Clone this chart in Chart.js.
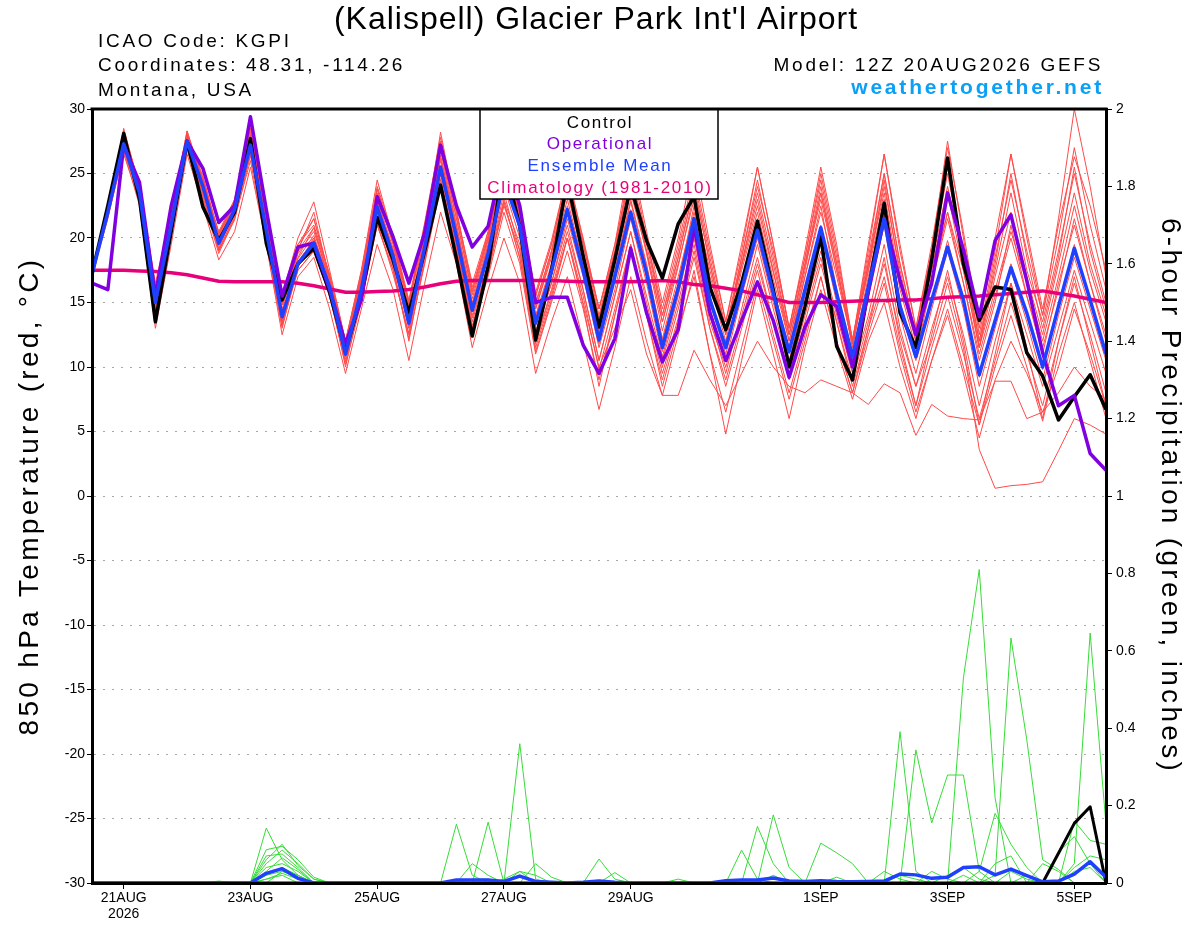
<!DOCTYPE html>
<html>
<head>
<meta charset="utf-8">
<title>KGPI GEFS 850 hPa temperature and precipitation</title>
<script src="https://cdn.jsdelivr.net/npm/chart.js@4.4.1/dist/chart.umd.min.js"></script>
<style>
  html, body { margin: 0; padding: 0; background: #fff; }
  canvas { display: block; }
</style>
</head>
<body>
<canvas id="meteogram" width="1200" height="927"></canvas>
<script>
// hours after 20AUG2026 12Z, one point every 6 h (65 points to 5SEP 12Z)
const step_hours = [];
for (let i = 0; i <= 64; i++) step_hours.push(i * 6);

// x axis labels (hours after run start)
const tick_hours = [12, 60, 108, 156, 204, 276, 324, 372];
const tick_labels = [["21AUG", "2026"], "23AUG", "25AUG", "27AUG", "29AUG", "1SEP", "3SEP", "5SEP"];

// 850 hPa temperature, deg C
const temp_mean = [17.2,22.0,27.3,23.5,15.0,21.0,27.5,24.0,19.6,22.2,
  27.2,20.6,13.9,18.0,19.6,16.2,11.0,16.0,22.4,18.6,
  13.4,19.3,25.5,20.1,14.4,18.8,24.5,20.9,13.4,17.4,
  22.2,17.5,12.1,17.0,22.0,17.3,11.5,16.1,21.5,15.2,
  11.5,16.0,20.6,15.7,11.2,16.0,20.8,15.7,10.8,16.2,
  21.5,14.7,10.8,15.2,19.3,15.2,9.4,13.6,17.7,14.2,
  10.0,14.7,19.2,15.2,11.0];

const temp_control = [17.2,22.5,28.1,23.0,13.5,20.5,27.5,22.4,19.8,22.0,
  27.7,19.6,15.2,18.0,19.2,15.8,11.2,15.5,21.6,18.3,
  14.2,19.0,24.1,18.4,12.4,17.8,26.0,20.9,12.1,17.5,
  24.5,18.6,13.1,18.3,24.0,19.8,16.9,21.1,23.2,16.2,
  12.9,16.5,21.3,16.0,10.0,14.7,20.1,11.6,9.0,16.0,
  22.7,14.2,11.5,18.3,26.2,18.0,13.6,16.2,16.0,11.1,
  9.3,5.9,7.7,9.4,6.7];

const temp_operational = [16.5,16.0,27.2,24.3,15.5,22.5,27.5,25.4,21.2,22.5,
  29.4,22.2,15.5,19.3,19.6,16.0,11.8,15.2,23.2,20.1,
  16.5,20.4,27.2,22.5,19.3,20.9,26.5,22.5,15.0,15.4,
  15.4,11.7,9.5,12.2,19.2,14.2,10.4,12.9,20.9,14.2,
  10.5,13.6,16.6,13.6,9.2,13.1,15.6,14.7,10.0,15.8,
  21.5,16.7,12.5,16.5,23.5,19.1,13.9,19.8,21.8,16.7,
  11.1,7.0,7.8,3.3,2.0];

const temp_climatology = [17.5,17.5,17.5,17.45,17.4,17.3,17.15,16.9,16.65,16.6,
  16.6,16.6,16.6,16.5,16.3,16.05,15.8,15.8,15.85,15.9,
  16.0,16.2,16.45,16.65,16.7,16.7,16.7,16.7,16.7,16.7,
  16.65,16.6,16.6,16.6,16.6,16.65,16.7,16.6,16.4,16.3,
  16.1,15.9,15.6,15.3,15.0,15.0,15.0,15.05,15.1,15.15,
  15.15,15.2,15.2,15.3,15.4,15.45,15.5,15.6,15.7,15.8,
  15.9,15.7,15.5,15.25,15.0];

// ensemble members (red)
const temp_m01 = [17.3,22.3,27.8,23.8,15.5,21.5,28.0,24.3,19.8,22.5,
  27.8,21.0,14.5,18.8,20.5,16.8,11.5,16.8,23.5,19.5,
  14.2,20.3,26.8,21.0,15.3,19.8,25.8,21.8,14.5,18.8,
  23.8,18.8,13.2,18.5,24.0,18.8,12.8,17.8,23.5,17.0,
  13.0,17.8,22.5,17.3,12.5,17.8,23.0,17.5,12.2,18.0,
  23.5,16.5,12.0,17.0,22.0,17.5,11.5,16.0,20.5,16.5,
  12.0,17.0,22.5,17.5,13.5];
const temp_m02 = [17.1,21.8,27.0,23.0,14.5,20.5,27.0,23.5,19.0,21.8,
  26.5,20.0,13.2,17.5,19.0,15.5,10.2,15.0,21.0,17.5,
  12.5,18.0,24.0,19.0,13.0,17.5,22.5,19.0,11.5,15.5,
  20.0,15.0,10.0,13.0,16.0,11.0,7.8,7.8,11.3,9.0,
  7.0,9.5,12.0,10.0,8.5,8.0,9.0,8.5,8.0,7.1,
  8.7,8.0,4.7,7.1,6.2,6.0,5.9,8.9,8.9,6.0,
  6.5,8.0,10.0,8.5,7.5];
const temp_m03 = [17.2,22.2,27.5,23.3,14.8,21.2,27.8,24.2,19.5,22.0,
  27.0,20.2,13.5,19.5,21.5,17.0,11.2,16.5,22.8,18.5,
  13.0,19.0,25.0,19.5,13.5,18.0,23.5,19.0,12.5,16.5,
  21.0,16.0,10.5,15.5,20.5,15.0,10.0,14.5,19.5,13.5,
  10.0,14.0,18.5,13.5,9.5,14.0,18.5,13.5,9.0,13.5,
  18.0,12.5,8.5,12.0,16.5,11.5,3.6,0.6,0.8,0.9,
  1.1,3.5,6.0,5.5,4.8];
const temp_m04 = [17.3,22.5,28.3,24.0,16.0,21.8,28.3,24.5,20.2,22.8,
  28.0,21.5,15.0,19.0,20.0,16.8,11.8,17.0,23.8,19.8,
  15.0,21.0,27.5,22.0,16.5,20.5,26.0,22.5,15.5,19.5,
  25.0,20.0,14.5,19.5,25.0,20.0,14.0,19.0,24.5,18.5,
  13.0,18.5,24.0,19.0,13.0,18.5,24.5,18.5,12.0,18.5,
  25.0,18.0,12.5,19.0,25.5,19.0,12.0,18.5,24.5,19.0,
  14.0,21.5,30.0,24.0,17.0];
const temp_m05 = [17.2,21.9,27.0,23.2,14.0,20.8,27.2,23.8,19.2,22.0,
  27.0,20.5,14.0,18.5,20.8,16.5,10.8,16.2,22.0,18.0,
  13.0,19.0,25.0,19.8,14.0,18.5,24.0,20.0,12.8,16.5,
  21.5,17.0,11.5,16.0,21.5,16.5,10.8,15.5,21.0,14.5,
  10.5,15.5,20.0,15.0,10.5,15.5,20.5,15.0,10.0,15.5,
  21.0,14.0,9.5,14.5,19.0,14.5,8.5,13.0,17.5,13.5,
  9.0,14.0,18.5,14.5,10.5];
const temp_m06 = [17.2,22.3,28.5,24.0,16.5,22.0,28.3,24.2,20.5,23.0,
  28.5,21.5,15.5,20.0,22.8,17.5,12.0,17.5,24.5,20.0,
  15.0,20.5,28.2,22.0,16.0,20.0,26.5,22.0,15.0,19.0,
  24.5,19.5,14.0,19.0,26.0,20.0,14.5,19.5,25.0,19.0,
  13.5,19.0,25.5,19.5,13.0,18.5,25.0,19.0,12.0,19.0,
  26.5,19.0,13.0,19.0,27.5,20.0,12.5,19.0,26.5,20.0,
  14.0,20.0,27.0,21.0,16.0];
const temp_m07 = [17.1,21.5,26.8,22.5,13.0,19.5,26.5,22.5,18.3,20.5,
  25.5,19.5,12.5,17.0,18.5,14.5,9.5,14.5,19.5,16.0,
  10.5,16.5,22.0,18.0,11.5,16.0,20.0,16.5,9.5,13.5,
  17.0,12.0,6.7,11.5,17.0,12.0,7.8,12.5,17.5,11.0,
  4.8,10.5,16.0,11.0,6.0,11.5,16.0,11.5,7.5,12.0,
  15.0,10.0,6.0,10.5,14.0,9.5,4.5,9.0,12.0,9.5,
  6.5,10.0,14.5,11.0,7.0];
const temp_m08 = [17.2,22.0,27.2,23.8,15.8,21.5,27.6,24.2,19.8,22.5,
  27.5,20.8,13.8,17.5,19.0,16.0,11.0,16.5,23.0,19.2,
  14.0,20.0,26.0,20.5,14.5,19.5,25.5,21.5,14.0,18.0,
  23.0,18.0,12.5,17.5,23.0,18.0,12.0,16.5,22.5,15.5,
  11.5,16.5,21.5,16.0,11.5,17.0,22.5,16.0,11.0,17.0,
  22.5,15.0,11.0,16.5,22.0,16.5,10.5,15.0,21.0,15.5,
  11.5,16.0,21.5,16.5,12.0];
const temp_m09 = [17.2,21.7,26.5,22.8,14.2,20.2,26.8,23.0,18.8,21.5,
  26.0,19.5,13.0,18.0,20.0,15.8,10.0,15.5,21.5,17.8,
  12.0,18.5,24.5,19.0,13.0,17.0,22.0,18.0,11.0,15.0,
  19.0,14.5,9.0,14.0,19.0,14.0,9.0,13.5,18.5,13.0,
  9.0,13.5,18.0,13.5,9.0,13.5,18.0,13.5,8.5,13.0,
  17.0,11.5,7.0,11.5,15.5,11.0,6.0,10.5,15.0,11.0,
  7.0,12.0,16.5,12.5,8.0];
const temp_m10 = [17.3,22.2,27.6,23.6,15.2,21.2,27.8,24.5,20.0,22.6,
  27.4,21.2,14.8,18.2,19.5,16.5,11.8,16.8,22.8,19.0,
  13.8,20.0,26.2,21.0,15.0,19.5,25.0,21.5,14.5,18.5,
  23.5,18.5,13.5,18.0,23.5,19.0,13.5,18.0,23.0,17.5,
  12.5,18.0,23.5,18.0,12.5,18.0,23.5,18.0,11.5,18.0,
  24.0,17.5,12.0,18.0,24.0,18.5,12.0,17.5,23.5,17.5,
  13.5,19.0,25.0,19.5,15.0];
const temp_m11 = [17.2,22.1,27.4,23.4,14.6,21.0,27.4,23.6,19.4,21.8,
  26.8,20.4,13.6,19.0,22.0,16.8,11.4,15.8,22.0,18.4,
  13.6,19.4,25.2,19.6,13.8,18.0,23.0,19.5,12.0,16.0,
  20.5,16.0,10.5,15.5,20.5,15.5,10.5,15.0,20.0,14.0,
  9.5,14.5,19.5,14.5,10.0,14.5,19.0,14.0,9.5,14.0,
  19.5,13.0,8.5,13.0,17.0,12.5,7.0,12.0,16.5,12.5,
  8.5,13.0,17.5,13.5,9.5];
const temp_m12 = [17.2,22.4,28.0,24.2,16.0,22.2,28.0,24.8,20.3,22.8,
  28.5,21.8,15.0,19.5,21.0,17.2,12.0,17.2,23.8,19.8,
  14.8,21.0,27.0,21.5,15.8,20.5,26.0,22.0,15.5,19.5,
  24.5,19.5,14.5,19.0,25.0,19.5,14.0,18.5,24.0,18.0,
  12.5,18.5,24.5,18.5,12.5,18.0,24.0,18.0,11.5,18.0,
  25.0,18.0,12.5,18.5,25.0,18.5,11.5,18.0,25.0,18.5,
  13.0,18.5,25.5,19.0,14.5];
const temp_m13 = [17.2,22.2,27.7,23.9,15.7,21.7,27.9,24.0,19.9,22.4,
  27.6,21.2,14.2,18.4,20.2,16.4,11.2,16.2,22.6,19.0,
  13.6,20.5,26.4,20.8,14.8,19.2,25.2,21.0,13.8,17.8,
  22.5,17.8,12.8,17.2,22.8,17.8,12.2,17.0,22.0,16.5,
  12.0,17.5,22.0,16.8,12.0,17.0,22.0,17.0,11.8,17.5,
  23.0,16.0,11.5,16.5,21.5,16.5,11.0,15.5,20.0,15.5,
  11.0,16.5,21.0,16.5,12.5];
const temp_m14 = [17.1,21.6,26.9,23.0,14.3,20.6,27.1,23.4,19.1,21.6,
  26.6,20.0,13.4,18.2,19.8,15.6,10.4,15.2,21.2,17.2,
  12.6,18.8,24.6,19.2,13.2,17.6,22.8,18.5,11.8,15.8,
  20.0,15.5,9.8,14.5,19.5,14.5,9.5,13.8,19.0,13.0,
  8.5,13.0,17.5,12.5,8.0,12.5,17.0,12.0,8.0,12.5,
  16.5,11.0,6.5,10.5,14.5,10.0,5.5,10.0,14.0,10.0,
  5.8,11.0,15.0,10.5,6.0];
const temp_m15 = [17.3,22.4,28.2,24.1,16.2,22.0,28.1,24.6,20.4,22.9,
  28.2,21.6,15.2,19.2,21.5,17.0,12.0,17.4,24.0,20.2,
  15.2,21.2,27.8,22.2,16.2,20.2,26.2,22.2,15.8,19.8,
  25.0,19.8,14.5,19.5,26.5,20.5,15.0,20.0,26.0,19.5,
  13.5,19.5,25.5,19.5,13.0,19.0,25.5,19.5,12.0,19.5,
  26.5,19.5,13.0,19.5,27.0,20.5,13.0,20.0,26.5,20.5,
  14.5,21.0,26.3,22.5,17.5];
const temp_m16 = [17.2,21.9,27.1,23.5,15.1,21.0,27.4,24.1,19.6,22.1,
  27.1,20.7,14.1,18.1,19.8,16.3,11.1,16.1,22.3,18.7,
  13.5,19.2,25.4,20.2,14.6,18.9,24.4,20.7,13.2,17.2,
  22.0,17.2,11.8,16.8,22.2,17.0,11.2,15.8,21.2,15.0,
  11.0,15.8,20.8,15.5,11.0,15.8,21.0,15.5,10.5,16.0,
  21.8,14.5,10.5,15.0,19.8,15.0,9.2,13.5,18.0,14.0,
  9.8,14.5,19.5,15.0,11.0];
const temp_m17 = [17.2,21.8,27.0,23.1,14.4,20.4,27.0,23.2,19.0,21.4,
  26.4,20.0,13.2,17.8,19.4,15.4,10.6,15.4,21.0,17.6,
  12.2,18.2,24.2,19.2,12.8,17.2,22.8,18.4,11.2,15.2,
  20.0,14.8,8.5,14.0,19.5,14.0,8.5,13.0,17.0,11.0,
  6.5,11.5,16.5,12.0,7.5,12.0,17.0,12.0,8.0,13.0,
  18.5,12.0,7.0,12.5,17.5,12.0,5.5,11.0,16.5,11.5,
  6.0,12.0,17.0,12.0,7.0];
const temp_m18 = [17.3,22.3,27.9,24.0,15.9,21.9,27.9,24.6,20.1,22.7,
  28.0,21.4,14.9,19.0,20.8,17.0,11.9,17.0,23.4,19.6,
  14.6,20.8,27.0,21.6,15.6,20.0,25.8,21.8,14.8,19.0,
  24.0,19.0,13.8,18.8,24.5,19.0,13.5,18.5,24.0,18.0,
  12.8,18.0,23.0,17.5,12.0,17.5,23.5,17.5,11.8,17.5,
  24.5,17.0,12.0,17.5,23.5,17.5,11.5,17.0,22.0,17.0,
  12.5,18.0,23.5,18.0,14.0];

// 6-hour precipitation, inches
const precip_mean = [0,0,0,0,0,0,0,0,0,0,
  0,0.025,0.037,0.012,0,0,0,0,0,0,
  0,0,0,0.008,0.008,0.008,0.004,0.018,0.004,0.002,
  0,0.002,0.005,0.002,0,0,0,0,0,0,
  0.006,0.008,0.008,0.013,0.005,0.004,0.006,0.004,0.003,0.004,
  0.005,0.023,0.021,0.012,0.015,0.04,0.042,0.021,0.036,0.019,
  0.003,0.005,0.023,0.055,0.015];
const precip_control = [0,0,0,0,0,0,0,0,0,0,
  0,0,0,0,0,0,0,0,0,0,
  0,0,0,0,0,0,0,0,0,0,
  0,0,0,0,0,0,0,0,0,0,
  0,0,0,0,0,0,0,0,0,0,
  0,0,0,0,0,0,0,0,0,0,
  0,0.077,0.154,0.197,0];

// ensemble members (green)
const precip_m01 = [0,0,0,0,0,0,0,0,0,0,
  0,0.142,0.06,0.02,0,0,0,0,0,0,
  0,0,0,0,0,0,0,0,0,0,
  0,0,0,0,0,0,0,0,0,0,
  0,0,0,0,0,0,0,0,0,0,
  0,0,0,0,0,0.53,0.81,0.22,0,0,
  0,0,0,0,0];
const precip_m02 = [0,0,0,0,0,0,0,0,0,0,
  0,0.086,0.095,0.06,0.015,0,0,0,0,0,
  0,0,0,0,0,0,0,0.36,0.01,0,
  0,0,0,0,0,0,0,0,0,0,
  0,0,0,0,0,0,0,0,0,0,
  0,0,0,0,0,0,0,0,0,0,
  0,0,0.16,0.11,0.10];
const precip_m03 = [0,0,0,0,0,0,0,0,0,0,
  0,0.07,0.075,0.04,0,0,0,0,0,0,
  0,0,0,0.152,0.02,0,0,0,0,0,
  0,0,0,0,0,0,0,0,0,0,
  0,0,0,0,0,0,0,0,0,0,
  0,0.391,0.03,0,0,0,0,0,0,0,
  0.05,0.03,0,0,0];
const precip_m04 = [0,0,0,0,0,0,0,0,0,0,
  0,0.05,0.085,0.05,0.01,0,0,0,0,0,
  0,0,0,0,0,0.157,0,0,0,0,
  0,0,0,0,0,0,0,0,0,0,
  0,0,0,0,0,0,0,0,0,0,
  0,0,0.344,0.155,0.279,0.279,0.03,0,0,0,
  0,0,0,0,0];
const precip_m05 = [0,0,0,0,0,0,0,0,0,0,
  0,0.03,0.065,0.035,0,0,0,0,0,0,
  0,0,0,0,0.05,0.02,0,0,0,0,
  0,0,0.062,0.01,0,0,0,0,0,0,
  0,0,0,0,0,0,0,0,0,0,
  0,0,0,0,0,0,0,0.02,0.633,0.37,
  0.06,0.035,0,0,0];
const precip_m06 = [0,0,0,0,0,0,0,0,0,0,
  0,0.04,0.05,0.03,0,0,0,0,0,0,
  0,0,0,0,0,0,0,0,0.05,0.015,
  0,0,0,0,0,0,0,0,0,0,
  0,0,0,0,0,0,0,0,0,0,
  0,0,0,0,0,0,0.03,0.18,0.1,0.04,
  0,0,0.05,0.646,0.15];
const precip_m07 = [0,0,0,0,0,0,0,0,0,0,
  0,0.02,0.04,0.02,0,0,0,0,0,0,
  0,0,0,0,0,0,0,0.03,0.02,0,
  0,0,0,0,0,0,0,0,0,0,
  0,0.085,0.01,0,0,0,0.103,0.078,0.05,0,
  0,0,0,0,0,0,0,0,0,0,
  0,0,0,0,0];
const precip_m08 = [0,0,0,0,0,0,0,0,0,0,
  0,0,0.03,0.02,0,0,0,0,0,0,
  0,0,0,0,0,0,0,0,0,0,
  0,0,0,0.027,0,0,0,0,0,0,
  0,0,0.146,0.05,0,0,0,0,0,0,
  0,0,0,0,0.02,0.04,0.01,0,0,0,
  0,0.08,0.12,0.05,0];
const precip_m09 = [0,0,0,0,0,0,0,0,0,0,
  0,0.01,0.02,0,0,0,0,0,0,0,
  0,0,0,0,0,0,0,0,0,0,
  0,0,0,0,0,0,0,0.01,0,0,
  0,0,0,0.176,0.04,0,0,0,0,0,
  0.03,0.01,0,0,0,0,0,0,0.03,0.01,
  0,0,0.04,0.07,0.06];
const precip_m10 = [0,0,0,0,0,0,0,0,0,0,
  0,0.02,0.03,0.015,0,0,0,0,0,0,
  0,0,0,0,0,0,0.01,0.03,0,0,
  0,0,0,0,0,0,0,0,0,0,
  0,0,0,0,0,0,0,0.015,0,0,
  0,0,0,0.03,0.01,0,0,0.05,0.07,0,
  0,0,0,0,0];
const precip_m11 = [0,0,0,0,0,0,0,0,0,0,
  0,0.06,0.10,0.045,0.01,0,0,0,0,0,
  0,0,0,0,0,0,0,0,0,0,
  0,0,0,0,0,0,0,0,0,0,
  0,0,0,0.02,0,0,0,0,0,0,
  0,0.02,0.01,0,0,0.02,0,0,0,0,
  0,0,0,0,0];
const precip_m12 = [0,0,0,0,0,0,0,0,0.005,0,
  0,0.01,0.025,0.01,0,0,0,0,0,0,
  0,0,0,0,0.01,0.01,0,0,0,0,
  0,0,0,0,0,0,0,0,0,0,
  0,0,0,0,0,0,0,0,0,0,
  0,0,0,0,0,0,0,0,0,0.02,
  0,0,0.03,0.04,0];

const temp_members = [temp_m01, temp_m02, temp_m03, temp_m04, temp_m05, temp_m06,
  temp_m07, temp_m08, temp_m09, temp_m10, temp_m11, temp_m12,
  temp_m13, temp_m14, temp_m15, temp_m16, temp_m17, temp_m18];
const precip_members = [precip_m01, precip_m02, precip_m03, precip_m04, precip_m05,
  precip_m06, precip_m07, precip_m08, precip_m09, precip_m10, precip_m11, precip_m12];

const colours = {
  member_temp: "#ff4a4a",
  member_precip: "#38dc38",
  control: "#000000",
  operational: "#8000e0",
  mean: "#2040ff",
  climatology: "#e8007a",
  site: "#0aa0f5"
};
const font_family = "'Liberation Sans', Arial, Helvetica, sans-serif";

function makeLine(values, colour, width, axis) {
  return {
    data: values.map((v, i) => ({ x: step_hours[i], y: v })),
    borderColor: colour,
    backgroundColor: colour,
    borderWidth: width,
    borderJoinStyle: width > 1 ? "round" : "miter",
    pointRadius: 0,
    fill: false,
    tension: 0,
    yAxisID: axis
  };
}

// first dataset in the list is drawn on top
const datasets = [
  makeLine(temp_mean, colours.mean, 3.5, "y"),
  makeLine(temp_operational, colours.operational, 3.5, "y"),
  makeLine(temp_control, colours.control, 3.5, "y"),
  makeLine(precip_mean, colours.mean, 3.5, "y2"),
  makeLine(precip_control, colours.control, 3, "y2"),
  makeLine(temp_climatology, colours.climatology, 3.5, "y")
];
precip_members.forEach(m => datasets.push(makeLine(m, colours.member_precip, 1, "y2")));
temp_members.forEach(m => datasets.push(makeLine(m, colours.member_temp, 1, "y")));

const legend_rows = [
  ["Control", colours.control],
  ["Operational", colours.operational],
  ["Ensemble Mean", colours.mean],
  ["Climatology (1981-2010)", colours.climatology]
];

// the original lettering is widely tracked; axis titles get that, tick labels do not
const letter_spacing = {
  id: "letter_spacing",
  beforeDraw(chart) { chart.ctx.letterSpacing = "3.3px"; },
  beforeDatasetsDraw(chart) { chart.ctx.letterSpacing = "0px"; }
};

// legend box inside the plot, top of the frame and the header text
const decorations = {
  id: "decorations",
  afterDatasetsDraw(chart) {
    const { ctx, chartArea } = chart;
    const box_left = chartArea.left + 388;
    const box_width = 238;
    const box_height = 90;
    ctx.save();
    ctx.fillStyle = "#fff";
    ctx.fillRect(box_left, chartArea.top, box_width, box_height);
    ctx.strokeStyle = "#000";
    ctx.lineWidth = 1.5;
    ctx.strokeRect(box_left, chartArea.top, box_width, box_height);
    ctx.font = "17px " + font_family;
    ctx.letterSpacing = "1.7px";
    ctx.textAlign = "center";
    ctx.textBaseline = "alphabetic";
    legend_rows.forEach((row, i) => {
      ctx.fillStyle = row[1];
      ctx.fillText(row[0], box_left + box_width / 2 + 1, chartArea.top + 18.5 + i * 21.9);
    });
    ctx.restore();
  },
  afterDraw(chart) {
    const { ctx, chartArea } = chart;
    ctx.save();
    ctx.strokeStyle = "#000";
    ctx.lineWidth = 3;
    ctx.beginPath();
    ctx.moveTo(chartArea.left - 1.5, chartArea.top);
    ctx.lineTo(chartArea.right + 1.5, chartArea.top);
    ctx.stroke();

    ctx.fillStyle = "#000";
    ctx.textBaseline = "alphabetic";
    ctx.textAlign = "center";
    ctx.font = "32px " + font_family;
    ctx.letterSpacing = "1px";
    ctx.fillText("(Kalispell) Glacier Park Int'l Airport", 596, 29);

    ctx.textAlign = "left";
    ctx.font = "19px " + font_family;
    ctx.letterSpacing = "2.7px";
    ctx.fillText("ICAO Code: KGPI", 98, 46.5);
    ctx.fillText("Coordinates: 48.31, -114.26", 98, 71);
    ctx.fillText("Montana, USA", 98, 96);

    ctx.textAlign = "right";
    ctx.fillText("Model: 12Z 20AUG2026 GEFS", 1103, 71);
    ctx.fillStyle = colours.site;
    ctx.font = "bold 21px " + font_family;
    ctx.letterSpacing = "2.8px";
    ctx.fillText("weathertogether.net", 1104, 94);
    ctx.restore();
  }
};

const tick_font = { family: font_family, size: 14 };

const config = {
  type: "line",
  data: { datasets: datasets },
  options: {
    responsive: false,
    animation: false,
    devicePixelRatio: 1,
    events: [],
    layout: { padding: { top: 109, left: 0, right: 0, bottom: 0 } },
    plugins: {
      legend: { display: false },
      tooltip: { enabled: false },
      title: { display: false }
    },
    scales: {
      x: {
        type: "linear",
        min: 0,
        max: 384,
        afterBuildTicks: (scale) => { scale.ticks = tick_hours.map(v => ({ value: v })); },
        afterFit: (scale) => { scale.height = 44; },
        ticks: {
          autoSkip: false,
          maxRotation: 0,
          padding: 1,
          z: 1,
          color: "#000",
          font: { family: font_family, size: 14, lineHeight: 1.15 },
          callback: (value) => tick_labels[tick_hours.indexOf(value)]
        },
        grid: { drawOnChartArea: false, drawTicks: true, tickLength: 6, tickColor: "#000", tickWidth: 1 },
        border: { color: "#000", width: 3, z: 1 }
      },
      y: {
        position: "left",
        min: -30,
        max: 30,
        afterFit: (scale) => { scale.width = 92; },
        ticks: { stepSize: 5, padding: 2, z: 1, color: "#000", font: tick_font },
        grid: { color: "#a8a8a8", lineWidth: 1, tickColor: "#000", tickLength: 5, tickWidth: 1 },
        border: { color: "#000", width: 3, dash: [2, 7], z: 1 },
        title: {
          display: true,
          text: "850 hPa Temperature (red, °C)",
          color: "#000",
          font: { family: font_family, size: 28 },
          padding: { top: 13, bottom: 0 }
        }
      },
      y2: {
        position: "right",
        min: 0,
        max: 2,
        afterFit: (scale) => { scale.width = 94; },
        ticks: {
          stepSize: 0.2,
          padding: 4,
          z: 1,
          color: "#000",
          font: tick_font,
          callback: (value) => String(Number(value.toFixed(1)))
        },
        grid: { drawOnChartArea: false, tickColor: "#000", tickLength: 6, tickWidth: 1 },
        border: { color: "#000", width: 3, z: 1 },
        title: {
          display: true,
          text: "6-hour Precipitation (green, inches)",
          color: "#000",
          font: { family: font_family, size: 28 },
          padding: { top: 13, bottom: 0 }
        }
      }
    }
  },
  plugins: [letter_spacing, decorations]
};

const meteogram_chart = new Chart(document.getElementById("meteogram").getContext("2d"), config);
</script>
</body>
</html>
